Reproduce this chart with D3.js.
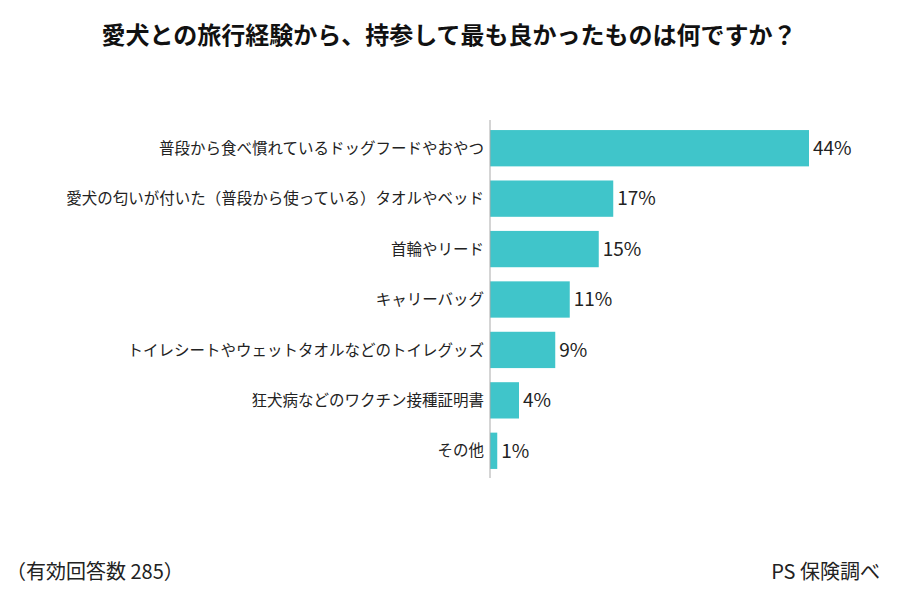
<!DOCTYPE html>
<html><head><meta charset="utf-8">
<script src="https://cdn.jsdelivr.net/npm/d3@7"></script>
<style>body{margin:0;background:#fff}text{font-family:"Noto Sans CJK JP","Noto Sans",sans-serif}</style>
</head><body>
<svg id="c" width="900" height="600"></svg>
<script>
const categories = [
  '普段から食べ慣れているドッグフードやおやつ',
  '愛犬の匂いが付いた（普段から使っている）タオルやベッド',
  '首輪やリード',
  'キャリーバッグ',
  'トイレシートやウェットタオルなどのトイレグッズ',
  '狂犬病などのワクチン接種証明書',
  'その他'
];
const values = [44, 17, 15, 11, 9, 4, 1];

const svg = d3.select('#c');
const left = 490;
const x = d3.scaleLinear().domain([0, 44]).range([left, 809]);
const y = d3.scaleBand().domain(categories).range([123, 476]).paddingInner(0.28).paddingOuter(0.14);

svg.append('text').attr('x', 449).attr('y', 44).attr('text-anchor', 'middle')
  .style('font-size', '24px').style('font-weight', 'bold').attr('fill', '#111')
  .text('愛犬との旅行経験から、持参して最も良かったものは何ですか？');

svg.selectAll('.bar').data(values).enter().append('rect')
  .attr('x', left).attr('y', (d, i) => y(categories[i]))
  .attr('width', d => x(d) - left).attr('height', y.bandwidth())
  .attr('fill', '#40c5ca');

svg.selectAll('.val').data(values).enter().append('text')
  .attr('x', d => x(d) + 4).attr('y', (d, i) => y(categories[i]) + y.bandwidth() / 2)
  .attr('dy', '0.36em').style('font-size', '19px').attr('fill', '#222')
  .text(d => d + '%');

svg.selectAll('.lab').data(categories).enter().append('text')
  .attr('x', left - 6).attr('y', d => y(d) + y.bandwidth() / 2)
  .attr('dy', '0.36em').attr('text-anchor', 'end').style('font-size', '15.5px').attr('fill', '#222')
  .text(d => d);

svg.append('line').attr('x1', left).attr('x2', left).attr('y1', 120).attr('y2', 478)
  .attr('stroke', '#aaa').attr('stroke-width', 1);

svg.append('text').attr('x', 6).attr('y', 579).style('font-size', '20px').attr('fill', '#222')
  .text('（有効回答数 285）');
svg.append('text').attr('x', 880).attr('y', 579).attr('text-anchor', 'end').style('font-size', '20px').attr('fill', '#222')
  .text('PS 保険調べ');
</script>
</body></html>
